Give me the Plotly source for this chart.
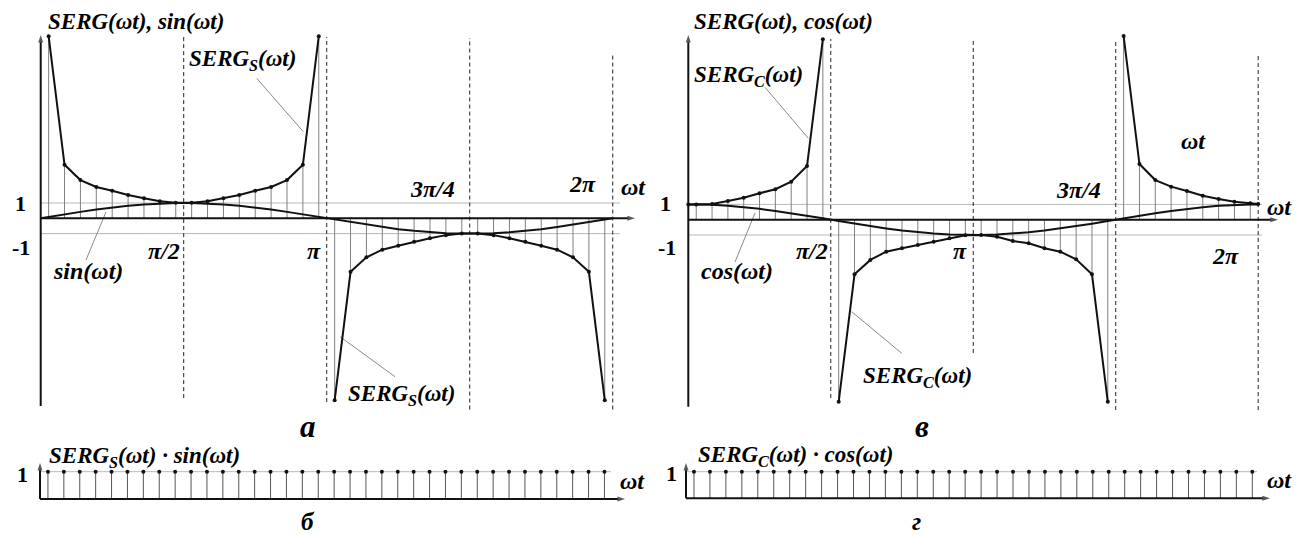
import numpy as np
import plotly.graph_objects as go

W, H = 1307, 535
FONT = "'Liberation Serif', 'Times New Roman', 'DejaVu Serif', serif"

# ---- sampling grid: 18 samples per half period, centred in each step ----
N_HALF = 18
wt = (np.arange(2 * N_HALF) + 0.5) * np.pi / N_HALF
wt_nodes = np.concatenate([[0.0], wt, [2 * np.pi]])   # 0, samples, 2π

# ---- values ----
serg_s = [11.9, 3.5, 2.5, 2.05, 1.8, 1.52, 1.31, 1.12, 1.02,
          1.02, 1.12, 1.31, 1.52, 1.8, 2.05, 2.5, 3.5, 11.9,
          -11.9, -3.5, -2.55, -2.05, -1.8, -1.53, -1.31, -1.1, -1.0,
          -1.0, -1.1, -1.31, -1.53, -1.8, -2.05, -2.55, -3.5, -11.9]

sin_wt = [0.0,
          0.09, 0.26, 0.42, 0.57, 0.71, 0.82, 0.91, 0.97, 1.0,
          1.0, 0.97, 0.91, 0.82, 0.71, 0.57, 0.42, 0.26, 0.09,
          -0.09, -0.26, -0.42, -0.57, -0.71, -0.82, -0.91, -0.97, -1.0,
          -1.0, -0.97, -0.91, -0.82, -0.71, -0.57, -0.42, -0.26, -0.09,
          0.0]

serg_c = [1.0,
          1.0, 1.03, 1.22, 1.43, 1.73, 1.99, 2.48, 3.51, 11.8,
          -11.9, -3.57, -2.63, -2.09, -1.87, -1.65, -1.44, -1.22, -1.02,
          -1.0, -1.11, -1.39, -1.54, -1.87, -2.09, -2.59, -3.57, -11.9,
          12.0, 3.64, 2.59, 2.16, 1.88, 1.57, 1.35, 1.18, 1.07,
          1.02]

cos_wt = [1.0,
          1.0, 0.97, 0.91, 0.82, 0.71, 0.57, 0.42, 0.26, 0.09,
          -0.09, -0.26, -0.42, -0.57, -0.71, -0.82, -0.91, -0.97, -1.0,
          -1.0, -0.97, -0.91, -0.82, -0.71, -0.57, -0.42, -0.26, -0.09,
          0.09, 0.26, 0.42, 0.57, 0.71, 0.82, 0.91, 0.97, 1.0,
          1.0]

prod_s = [1, 1, 1, 1, 1, 1, 1, 1, 1, 1, 1, 1, 1, 1, 1, 1, 1, 1,
          1, 1, 1, 1, 1, 1, 1, 1, 1, 1, 1, 1, 1, 1, 1, 1, 1, 1]
prod_c = [1, 1, 1, 1, 1, 1, 1, 1, 1, 1, 1, 1, 1, 1, 1, 1, 1, 1,
          1, 1, 1, 1, 1, 1, 1, 1, 1, 1, 1, 1, 1, 1, 1, 1, 1, 1]

# ---- panel frames: origin (px), px per radian, zero line (px), px per unit, box ----
PANELS = {
    "a": dict(ax="", x0=40.7, sx=91.04, y0=218.3, sy=15.3, box=(0, 650, 0, 420)),
    "v": dict(ax="2", x0=688.3, sx=90.7, y0=219.7, sy=15.3, box=(650, 1307, 0, 420)),
    "b": dict(ax="3", x0=40.0, sx=91.1, y0=499.0, sy=27.3, box=(0, 650, 440, 535)),
    "g": dict(ax="4", x0=686.0, sx=91.4, y0=498.3, sy=26.6, box=(650, 1307, 440, 535)),
}

fig = go.Figure()
shapes = []
annotations = []

BLACK = "#111111"
STEM = "#808080"
LEVEL = "#b8b8b8"
LEADER = "#8a8a8a"


def refs(p):
    return "x" + p["ax"], "y" + p["ax"]


def dx(p, px):
    return (px - p["x0"]) / p["sx"]


def dy(p, py):
    return (p["y0"] - py) / p["sy"]


def add_line(p, xs, ys, color=BLACK, width=2, mode="lines", msize=4):
    xr, yr = refs(p)
    fig.add_trace(go.Scatter(
        x=xs, y=ys, mode=mode, xaxis=xr, yaxis=yr, hoverinfo="skip",
        line=dict(color=color, width=width),
        marker=dict(color=BLACK, size=msize), showlegend=False, cliponaxis=False))


def add_stems(p, xs, ys, color=STEM, width=1):
    sx, sy = [], []
    for x, y in zip(xs, ys):
        sx += [x, x, None]
        sy += [0, y, None]
    add_line(p, sx, sy, color=color, width=width)


def add_arrow_axis(p, xs, ys, width=2):
    xr, yr = refs(p)
    fig.add_trace(go.Scatter(
        x=xs, y=ys, mode="lines+markers", xaxis=xr, yaxis=yr, hoverinfo="skip",
        line=dict(color=BLACK, width=width),
        marker=dict(symbol=["circle", "arrow"], size=[0, 8], color=BLACK,
                    angleref="previous", line=dict(width=0)),
        showlegend=False, cliponaxis=False))


def add_seg(p, x0, y0, x1, y1, color, width=1, dash=None):
    xr, yr = refs(p)
    shapes.append(dict(type="line", xref=xr, yref=yr, x0=x0, y0=y0, x1=x1, y1=y1,
                       line=dict(color=color, width=width, dash=dash), layer="below"))


def label(text, px, py, size=20, anchor="center"):
    annotations.append(dict(
        text=text, x=px / W, y=1 - py / H, xref="paper", yref="paper",
        xanchor=anchor, yanchor="middle", showarrow=False,
        font=dict(family=FONT, size=size, color="black")))


def bi(s):
    return "<b><i>" + s + "</i></b>"


DASH = "4px,3px"
PI = np.pi
T = 23     # titles and curve names
L = 24     # tick-like labels

# ================= panel а =================
pa = PANELS["a"]
add_seg(pa, 0, 1, dx(pa, 620), 1, LEVEL)
add_seg(pa, 0, -1, dx(pa, 620), -1, LEVEL)
for xv, top, bot in [(PI / 2, 11.85, -11.75), (PI, 11.85, -12.0),
                     (3 * PI / 2, 11.78, -12.5), (2 * PI, 10.67, -12.5)]:
    add_seg(pa, xv, bot, xv, top, "#222222", 1, DASH)
add_stems(pa, wt, serg_s)
add_line(pa, wt_nodes, sin_wt, width=2)
add_line(pa, wt[:N_HALF], serg_s[:N_HALF], mode="lines+markers")
add_line(pa, wt[N_HALF:], serg_s[N_HALF:], mode="lines+markers")
add_arrow_axis(pa, [0, 0], [dy(pa, 406), dy(pa, 35)])
add_arrow_axis(pa, [0, dx(pa, 635)], [0, 0])
# leader lines
add_seg(pa, dx(pa, 256.7), dy(pa, 78.3), dx(pa, 303.3), dy(pa, 131.7), LEADER)
add_seg(pa, dx(pa, 86), dy(pa, 260), dx(pa, 106), dy(pa, 212), LEADER)
add_seg(pa, dx(pa, 340), dy(pa, 336.7), dx(pa, 395), dy(pa, 376.7), LEADER)

label(bi("SERG(ωt), sin(ωt)"), 46, 21, T, "left")
label(bi("SERG<sub>S</sub>(ωt)"), 187, 60, T, "left")
label("<b>1</b>", 20, 203, 22)
label("<b>-1</b>", 21, 247, 22)
label(bi("sin(ωt)"), 88, 271, L)
label(bi("π/2"), 164, 251, L)
label(bi("π"), 314, 251, L)
label(bi("3π/4"), 432, 189, L)
label(bi("2π"), 582, 184, L)
label(bi("ωt"), 633, 187, L)
label(bi("SERG<sub>S</sub>(ωt)"), 346, 395, T, "left")
label(bi("а"), 308, 426, 31)

# ================= panel в =================
pv = PANELS["v"]
add_seg(pv, 0, 1, dx(pv, 1262), 1, LEVEL)
add_seg(pv, 0, -1, dx(pv, 1262), -1, LEVEL)
for xv, top, bot in [(PI / 2, 11.81, -11.65), (PI, 11.88, -8.71),
                     (3 * PI / 2, 11.81, -12.44), (2 * PI, 10.7, -12.44)]:
    add_seg(pv, xv, bot, xv, top, "#222222", 1, DASH)
add_stems(pv, wt, serg_c[1:-1])
add_line(pv, wt_nodes, cos_wt, width=2)
add_line(pv, wt_nodes[:10], serg_c[:10], mode="lines+markers")
add_line(pv, wt_nodes[10:28], serg_c[10:28], mode="lines+markers")
add_line(pv, wt_nodes[28:], serg_c[28:], mode="lines+markers")
add_arrow_axis(pv, [0, 0], [dy(pv, 406.7), dy(pv, 35)])
add_arrow_axis(pv, [0, dx(pv, 1278)], [0, 0])
add_seg(pv, dx(pv, 765), dy(pv, 87.3), dx(pv, 808.3), dy(pv, 138.3), LEADER)
add_seg(pv, dx(pv, 735), dy(pv, 262), dx(pv, 755), dy(pv, 213), LEADER)
add_seg(pv, dx(pv, 851.7), dy(pv, 311.7), dx(pv, 901.7), dy(pv, 353.3), LEADER)

label(bi("SERG(ωt), cos(ωt)"), 692, 21, T, "left")
label(bi("SERG<sub>C</sub>(ωt)"), 692, 76, T, "left")
label("<b>1</b>", 666, 203, 22)
label("<b>-1</b>", 667, 247, 22)
label(bi("cos(ωt)"), 737, 271, L)
label(bi("π/2"), 812, 251, L)
label(bi("π"), 960, 251, L)
label(bi("3π/4"), 1078, 190, L)
label(bi("ωt"), 1193, 141, L)
label(bi("ωt"), 1279, 207, L)
label(bi("2π"), 1225, 256, L)
label(bi("SERG<sub>C</sub>(ωt)"), 861, 377, T, "left")
label(bi("в"), 922, 426, 31)

# ================= panel б =================
pb = PANELS["b"]
add_seg(pb, 0, 1, dx(pb, 611), 1, LEVEL)
add_stems(pb, wt, prod_s, color="#555555")
add_line(pb, wt, prod_s, mode="markers")
add_arrow_axis(pb, [0, 0], [0, dy(pb, 463)])
add_arrow_axis(pb, [0, dx(pb, 625)], [0, 0])
label(bi("SERG<sub>S</sub>(ωt) · sin(ωt)"), 47, 457, T, "left")
label("<b>1</b>", 22, 474, 22)
label(bi("ωt"), 632, 481, L)
label(bi("б"), 308, 521, 25)

# ================= panel г =================
pg = PANELS["g"]
add_seg(pg, 0, 1, dx(pg, 1257), 1, LEVEL)
add_stems(pg, wt, prod_c, color="#555555")
add_line(pg, wt, prod_c, mode="markers")
add_arrow_axis(pg, [0, 0], [0, dy(pg, 463)])
add_arrow_axis(pg, [0, dx(pg, 1270)], [0, 0])
label(bi("SERG<sub>C</sub>(ωt) · cos(ωt)"), 696, 456, T, "left")
label("<b>1</b>", 671, 473, 22)
label(bi("ωt"), 1279, 480, L)
label(bi("г"), 917, 521, 25)

# ---- axes for each panel ----
layout_axes = {}
for p in PANELS.values():
    l, r, t, b = p["box"]
    sfx = p["ax"]
    layout_axes["xaxis" + sfx] = dict(
        domain=[l / W, r / W], range=[(l - p["x0"]) / p["sx"], (r - p["x0"]) / p["sx"]],
        visible=False, fixedrange=True, anchor="y" + sfx)
    layout_axes["yaxis" + sfx] = dict(
        domain=[1 - b / H, 1 - t / H], range=[(p["y0"] - b) / p["sy"], (p["y0"] - t) / p["sy"]],
        visible=False, fixedrange=True, anchor="x" + sfx)

fig.update_layout(
    width=W, height=H, margin=dict(l=0, r=0, t=0, b=0),
    paper_bgcolor="white", plot_bgcolor="rgba(0,0,0,0)",
    shapes=shapes, annotations=annotations, showlegend=False,
    font=dict(family=FONT),
    **layout_axes,
)

fig.write_html("out.html")
